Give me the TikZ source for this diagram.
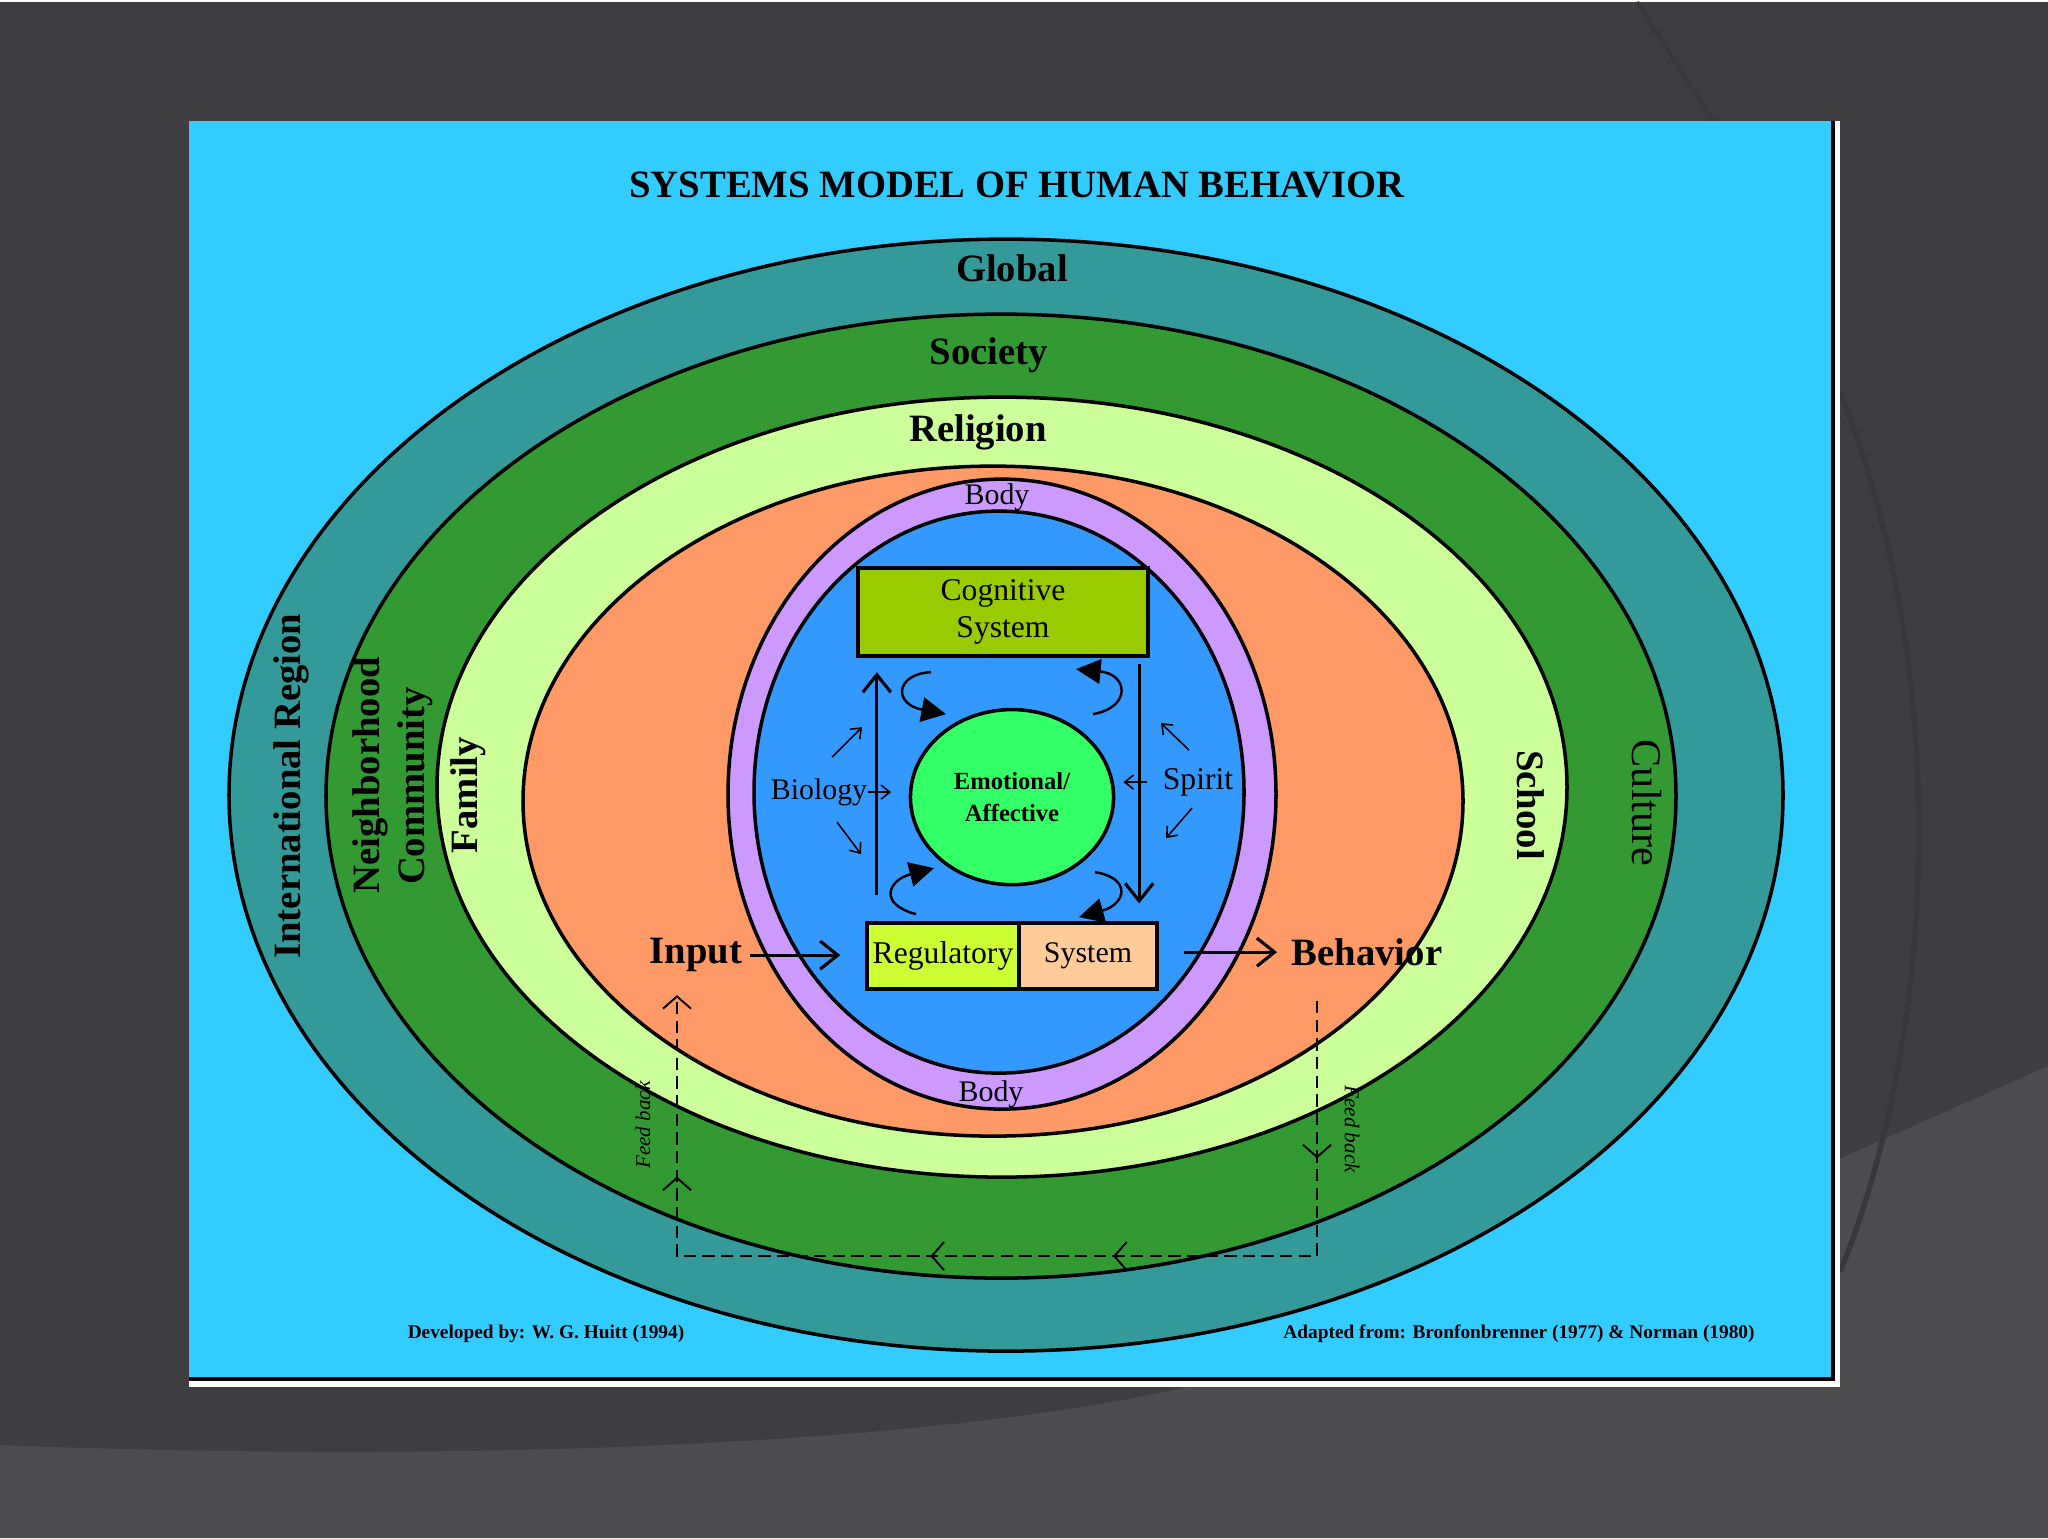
\documentclass[tikz,border=0pt]{standalone}
\usepackage{fontspec}
\setmainfont{Liberation Serif}
\usetikzlibrary{arrows.meta,calc,decorations.markings,shapes.geometric}

\definecolor{slidebg}{HTML}{3E3D3F}
\definecolor{slidelight}{HTML}{4C4B4D}
\definecolor{slideshade}{HTML}{39383A}
\definecolor{panelblue}{HTML}{33CCFF}
\definecolor{globalteal}{HTML}{339999}
\definecolor{societygreen}{HTML}{339933}
\definecolor{religiongreen}{HTML}{CCFF99}
\definecolor{familyorange}{HTML}{FF9966}
\definecolor{bodyviolet}{HTML}{CC99FF}
\definecolor{innerblue}{HTML}{3399FF}
\definecolor{cognitivegreen}{HTML}{99CC00}
\definecolor{emotiongreen}{HTML}{33FF66}
\definecolor{regyellow}{HTML}{CCFF33}
\definecolor{syspeach}{HTML}{FFCC99}

\tikzset{
  ring/.style={draw=black, line width=1pt},
  ringlabel/.style={font=\bfseries\fontsize{11}{13}\selectfont, inner sep=0pt},
  innerlabel/.style={font=\fontsize{8.5}{10}\selectfont, inner sep=0pt},
  flow/.style={line width=0.9pt, -{Straight Barb[length=5pt,width=8pt]}},
  thinflow/.style={line width=0.45pt, -{Straight Barb[length=2.5pt,width=4pt]}},
  curlflow/.style={line width=0.7pt, -{Triangle[length=7pt,width=7pt]}},
  feedback/.style={line width=0.55pt, dash pattern=on 3.5pt off 1.8pt},
  footnote/.style={font=\bfseries\fontsize{5.5}{6}\selectfont, inner sep=0pt},
}

\begin{document}
\begin{tikzpicture}[x=0.01cm, y=-0.01cm]
		%%%%% START %%%%%
		
		% slide background
		\fill[slidebg] (0,0) rectangle (2048,1536);
		\fill[slidelight] (0,1443) .. controls (500,1462) and (950,1440) .. (1190,1384) -- (1839,1157) -- (2048,1064) -- (2048,1536) -- (0,1536) -- cycle;
		\draw[slideshade, line width=1.2pt] (1637,0) -- (1713,119);
		\draw[slideshade, line width=1.5pt] (1840,390) .. controls (1945,650) and (1945,1010) .. (1840,1270);
		
		% panel
		\fill[white] (189,119) rectangle (1840,1385);
		\fill[black] (189,119) rectangle (1835,1379);
		\fill[panelblue] (189,119) rectangle (1831,1375);
		
		\node[font=\bfseries\fontsize{11}{13}\selectfont] (title) at (1017,183) {SYSTEMS MODEL OF HUMAN BEHAVIOR};
		
		% rings
		\filldraw[ring, fill=globalteal] (1006,793) ellipse [x radius=777, y radius=556];
		\filldraw[ring, fill=societygreen] (1001,794) ellipse [x radius=675, y radius=482];
		\filldraw[ring, fill=religiongreen] (1002,785) ellipse [x radius=565, y radius=390];
		\filldraw[ring, fill=familyorange] (993,799) ellipse [x radius=470, y radius=335];
		\filldraw[ring, fill=bodyviolet] (1002,792) ellipse [x radius=274, y radius=315];
		\filldraw[ring, fill=innerblue] (999,790) ellipse [x radius=245, y radius=281];
		
		\node[ringlabel] (global) at (1012,266) {Global};
		\node[ringlabel] (society) at (989,353) {Society};
		\node[ringlabel] (religion) at (978,430) {Religion};
		\node[ringlabel, rotate=90] (intl) at (291,784) {International Region};
		\node[ringlabel, rotate=90] (hood) at (370,773) {Neighborhood};
		\node[ringlabel, rotate=90] (community) at (415,784) {Community};
		\node[ringlabel, rotate=90] (family) at (468,793) {Family};
		\node[ringlabel, rotate=-90] (school) at (1531,803) {School};
		\node[ringlabel, font=\fontsize{12}{14}\selectfont, rotate=-90] (culture) at (1647,801) {Culture};
		\node[innerlabel] (bodytop) at (997,495) {Body};
		\node[innerlabel] (bodybot) at (991,1092) {Body};
		
		% systems
		\node[draw, line width=1.2pt, fill=cognitivegreen, minimum width=2.9cm, minimum height=0.78cm, align=center, font=\fontsize{9}{10.4}\selectfont] (cog) at (1003,610) {Cognitive\\System};
		\node[draw, line width=1pt, fill=emotiongreen, ellipse, minimum width=2.03cm, minimum height=1.75cm, align=center, font=\bfseries\fontsize{7}{9.3}\selectfont] (emo) at (1012,795) {Emotional/\\Affective};
		\node[draw, line width=1.2pt, fill=regyellow, minimum width=1.52cm, minimum height=0.66cm, font=\fontsize{9}{10}\selectfont, inner sep=0pt] (reg) at (943,954) {Regulatory};
		\node[draw, line width=1.2pt, fill=syspeach, minimum width=1.38cm, minimum height=0.66cm, font=\fontsize{8.5}{10}\selectfont, inner sep=0pt] (sys) at (1088,954) {System\hspace{14pt}};
		
		\node[innerlabel] (bio) at (819,790) {Biology};
		\node[innerlabel, font=\fontsize{9}{10}\selectfont] (spirit) at (1198,780) {Spirit};
		\node[ringlabel] (input) at (696,953) {Input};
		\node[ringlabel] (behavior) at (1367,950) {Behavior};
		
		% long arrows
		\coordinate (regup) at ($(reg.north west)+(12,0)$);
		\coordinate (cogdown) at ($(cog.south east)+(-11,0)$);
		\draw[flow, shorten <=7.4pt, shorten >=4pt] (regup) -- (regup |- cog.south);
		\draw[flow, shorten <=1.7pt, shorten >=5pt] (cogdown) -- (cogdown |- reg.north);
		\draw[flow, shorten <=2pt, shorten >=7pt] (input.east) -- (input.east -| reg.west);
		\draw[flow, shorten <=7pt, shorten >=4pt] (sys.east |- behavior.west) -- (behavior.west);
		
		% small arrows
		\draw[thinflow, shorten >=5pt] (bio.east) -- (bio.east -| emo.west);
		\draw[thinflow] ($(bio)+(13,-35)$) -- ++(30,-30);
		\draw[thinflow] ($(bio)+(18,30)$) -- ++(24,32);
		\draw[thinflow, shorten <=4.3pt, shorten >=2.3pt] (spirit.west) -- (spirit.west -| emo.east);
		\draw[thinflow] ($(spirit)+(-9,-32)$) -- ++(-28,-27);
		\draw[thinflow] ($(spirit)+(-6,26)$) -- ++(-26,30);
		
		% curly arrows
		\draw[curlflow] (931,670) .. controls (895,672) and (893,702) .. (946,712);
		\draw[curlflow] (1093,712) .. controls (1132,705) and (1128,672) .. (1076,667);
		\draw[curlflow] (916,912) .. controls (878,902) and (888,878) .. (934,866);
		\draw[curlflow] (1095,870) .. controls (1132,876) and (1126,902) .. (1079,915);
		
		% feed back loop
		\coordinate (fbR) at (1317,999);
		\coordinate (fbL) at (677,993);
		\draw[feedback, postaction={decorate}, decoration={markings,
		    mark=at position 0.136 with {\arrow{Straight Barb[length=3.5pt,width=8pt]}},
		    mark=at position 0.397 with {\arrow{Straight Barb[length=3.5pt,width=8pt]}},
		    mark=at position 0.555 with {\arrow{Straight Barb[length=3.5pt,width=8pt]}},
		    mark=at position 0.843 with {\arrow{Straight Barb[length=3.5pt,width=8pt]}}},
		    -{Straight Barb[length=3.5pt,width=8pt]}]
		    (fbR) -- (fbR |- 0,1254) -- (fbL |- 0,1254) -- (fbL);
		\node[font=\itshape\fontsize{6}{7}\selectfont, rotate=90, inner sep=0pt] (fbtextL) at (643,1123) {Feed back};
		\node[font=\itshape\fontsize{6}{7}\selectfont, rotate=-90, inner sep=0pt] (fbtextR) at (1352,1127) {Feed back};
		
		\node[footnote] (developed) at (546,1332) {Developed by: W. G. Huitt (1994)};
		\node[footnote] (adapted) at (1519,1332) {Adapted from: Bronfonbrenner (1977) \& Norman (1980)};
		
		%%%%% END %%%%%
	\end{tikzpicture}
\end{document}
